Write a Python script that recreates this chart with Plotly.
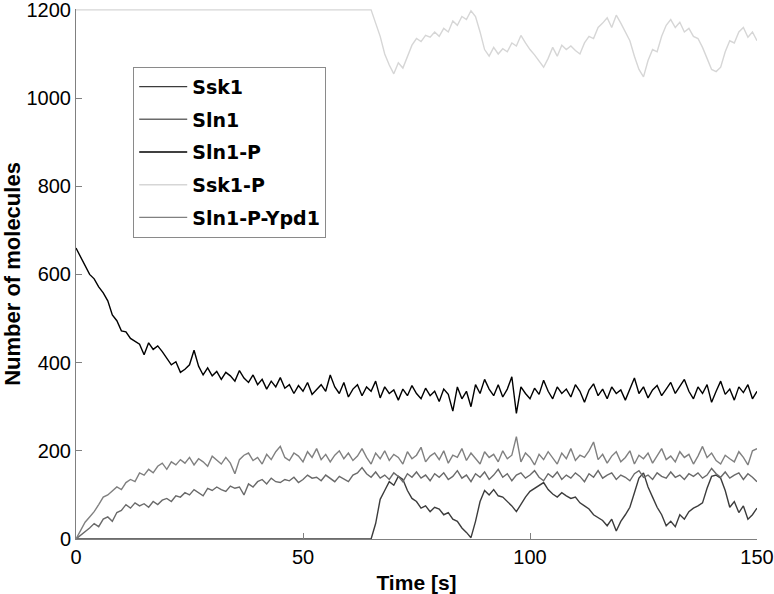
import plotly.graph_objects as go

# sample times [s], one reading per second
time_s = list(range(151))

ssk1 = [0, 0, 0, 0, 0, 0, 0, 0, 0, 0,
        0, 0, 0, 0, 0, 0, 0, 0, 0, 0,
        0, 0, 0, 0, 0, 0, 0, 0, 0, 0,
        0, 0, 0, 0, 0, 0, 0, 0, 0, 0,
        0, 0, 0, 0, 0, 0, 0, 0, 0, 0,
        0, 0, 0, 0, 0, 0, 0, 0, 0, 0,
        0, 0, 0, 0, 0, 0, 35, 90, 110, 130,
        122, 142, 135, 110, 92, 85, 70, 75, 62, 72,
        68, 55, 60, 45, 40, 25, 15, 3, 40, 85,
        110, 100, 112, 98, 95, 85, 75, 62, 80, 95,
        108, 115, 122, 128, 112, 102, 95, 105, 98, 92,
        95, 82, 75, 68, 55, 48, 42, 30, 45, 18,
        40, 55, 72, 105, 138, 150, 118, 95, 72, 55,
        30, 40, 28, 55, 45, 62, 70, 75, 82, 115,
        142, 145, 138, 110, 72, 85, 60, 75, 45, 55,
        70]

sln1 = [0, 8, 15, 25, 35, 28, 45, 50, 40, 60,
        65, 78, 70, 82, 75, 80, 72, 85, 78, 88,
        92, 85, 98, 95, 105, 100, 112, 105, 98, 115,
        110, 118, 112, 108, 120, 115, 118, 100, 125, 118,
        130, 135, 125, 138, 130, 128, 135, 132, 140, 128,
        135, 145, 138, 140, 132, 145, 138, 130, 142, 135,
        130, 145, 150, 162, 148, 140, 152, 138, 145, 135,
        150, 142, 130, 148, 140, 152, 138, 145, 132, 148,
        140, 150, 135, 142, 155, 138, 145, 130, 148, 140,
        152, 135, 145, 158, 140, 148, 132, 145, 150, 138,
        145, 155, 140, 132, 148, 140, 152, 135, 145, 138,
        150, 142, 130, 148, 140, 155, 138, 145, 150, 135,
        145, 140, 132, 148, 155, 140, 145, 135, 150, 142,
        138, 152, 140, 145, 135, 148, 142, 150, 138, 145,
        160, 148, 140, 152, 138, 145, 150, 135, 148, 140,
        130]

sln1_p = [660, 640, 622, 600, 590, 572, 558, 540, 508, 495,
          472, 470, 455, 448, 442, 418, 445, 430, 438, 425,
          410, 395, 402, 378, 385, 395, 428, 392, 372, 388,
          370, 380, 362, 378, 370, 358, 382, 365, 355, 372,
          350, 362, 340, 358, 345, 366, 342, 350, 330, 348,
          335, 355, 328, 340, 350, 335, 372, 345, 330, 355,
          322, 340, 350, 325, 345, 335, 358, 320, 345, 330,
          338, 315, 340, 325, 348, 330, 318, 342, 325, 335,
          312, 340, 328, 290, 345, 318, 335, 300, 350, 330,
          362, 340, 325, 350, 322, 340, 368, 285, 345, 330,
          318, 342, 328, 360, 335, 318, 345, 330, 340, 322,
          350, 335, 310, 338, 352, 325, 340, 318, 345, 330,
          338, 315, 342, 365, 330, 345, 320, 338, 348, 325,
          340, 355, 330, 345, 362, 335, 318, 345, 330, 350,
          310, 335, 358, 328, 340, 315, 345, 332, 350, 318,
          335]

ssk1_p = [1200, 1200, 1200, 1200, 1200, 1200, 1200, 1200, 1200, 1200,
          1200, 1200, 1200, 1200, 1200, 1200, 1200, 1200, 1200, 1200,
          1200, 1200, 1200, 1200, 1200, 1200, 1200, 1200, 1200, 1200,
          1200, 1200, 1200, 1200, 1200, 1200, 1200, 1200, 1200, 1200,
          1200, 1200, 1200, 1200, 1200, 1200, 1200, 1200, 1200, 1200,
          1200, 1200, 1200, 1200, 1200, 1200, 1200, 1200, 1200, 1200,
          1200, 1200, 1200, 1200, 1200, 1200, 1170, 1140, 1100, 1075,
          1055, 1080, 1068, 1095, 1120, 1135, 1128, 1142, 1138, 1150,
          1140, 1158, 1150, 1175, 1165, 1185, 1178, 1198, 1185, 1150,
          1110, 1095, 1115, 1100, 1112, 1105, 1125, 1118, 1142, 1125,
          1110, 1098, 1085, 1070, 1090, 1115, 1095, 1120, 1110, 1118,
          1108, 1100, 1125, 1140, 1135, 1160, 1170, 1182, 1160, 1188,
          1170, 1150, 1130, 1095, 1065, 1048, 1085, 1110, 1105, 1140,
          1165, 1178, 1160, 1172, 1150, 1158, 1140, 1135, 1115, 1090,
          1065, 1060, 1070, 1105, 1130, 1125, 1150, 1160, 1138, 1150,
          1130]

sln1_p_ypd1 = [0, 20, 38, 50, 62, 78, 95, 100, 108, 118,
               112, 128, 135, 130, 150, 145, 158, 150, 165, 172,
               158, 175, 168, 180, 172, 185, 168, 182, 175, 165,
               188, 178, 170, 185, 172, 148, 180, 190, 195, 178,
               185, 170, 192, 180, 198, 210, 185, 178, 195, 188,
               175, 198, 185, 205, 180, 192, 175, 190, 200, 182,
               195, 178, 188, 205, 185, 170, 195, 182, 200, 178,
               192, 185, 170, 198, 182, 190, 208, 175, 188, 195,
               180, 200, 172, 190, 185, 205, 178, 195, 182, 170,
               198, 185, 192, 175, 200, 182, 190, 232, 175, 195,
               185, 168, 192, 180, 198, 185, 170, 195, 182, 205,
               178, 190, 185, 200, 220, 180, 192, 172, 188, 198,
               175, 185, 200, 170, 190, 182, 195, 172, 190, 205,
               180, 188, 175, 198, 185, 192, 170, 188, 210, 185,
               195, 178, 170, 190, 182, 175, 198, 185, 168, 200,
               205]

series = [
    ('Ssk1', ssk1, '#3c3c3c'),
    ('Sln1', sln1, '#6a6a6a'),
    ('Sln1-P', sln1_p, '#000000'),
    ('Ssk1-P', ssk1_p, '#d6d6d6'),
    ('Sln1-P-Ypd1', sln1_p_ypd1, '#808080'),
]

fig = go.Figure()
for name, vals, col in series:
    fig.add_trace(go.Scatter(x=time_s, y=vals, mode='lines', name=name,
                             legendgroup=name,
                             line=dict(color=col, width=1.4)))

tick_font = dict(family='Liberation Sans, Arial, sans-serif', size=20, color='black')

fig.update_layout(
    width=774, height=594,
    margin=dict(l=76, r=17, t=9, b=55),
    plot_bgcolor='white', paper_bgcolor='white',
    showlegend=True,
    legend=dict(
        x=0.084, y=0.891, xanchor='left', yanchor='top',
        bgcolor='white', bordercolor='#8a8a8a', borderwidth=1,
        font=dict(family='DejaVu Sans', size=19, color='black', weight='bold'),
        tracegroupgap=5, traceorder='grouped', itemwidth=48,
    ),
    xaxis=dict(
        range=[0, 150], tickvals=[0, 50, 100, 150],
        ticks='inside', ticklen=6, tickcolor='#808080',
        showline=True, linecolor='#808080', linewidth=1,
        showgrid=False, zeroline=False, tickfont=tick_font,
        automargin=False, ticklabeloverflow='allow',
        title=dict(text='Time [s]', font=dict(family='Liberation Sans, Arial, sans-serif',
                                              size=21, color='black', weight='bold')),
    ),
    yaxis=dict(
        range=[0, 1202], tickvals=[0, 200, 400, 600, 800, 1000, 1200],
        ticks='inside', ticklen=6, tickcolor='#808080',
        showline=True, linecolor='#808080', linewidth=1,
        showgrid=False, zeroline=False, tickfont=tick_font,
        automargin=False, ticklabeloverflow='allow',
        title=dict(text='Number of molecules', font=dict(family='Liberation Sans, Arial, sans-serif',
                                                         size=22, color='black', weight='bold')),
    ),
)

# the page body has a default 8px margin; drop it so the figure sits at the corner
fig.write_html("out.html", config={'displayModeBar': False},
               post_script="document.body.style.margin='0';")
